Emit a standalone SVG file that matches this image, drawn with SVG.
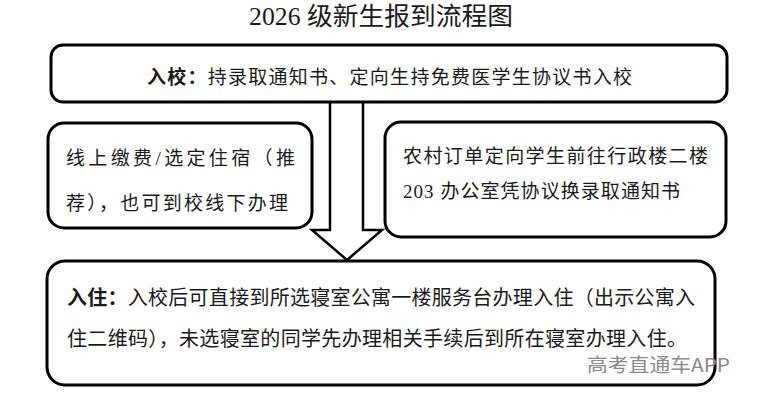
<svg xmlns="http://www.w3.org/2000/svg" width="760" height="402" viewBox="0 0 760 402">
<style>
.box{fill:#fff;stroke:#000;stroke-width:3}
.t{font-family:"Liberation Serif","Noto Sans CJK SC",serif;fill:#1a1a1a}
.b{font-weight:bold}
.wm{font-family:"Noto Sans CJK SC","Liberation Sans",sans-serif;fill:#8a8a8a;font-size:19px}
</style>
<rect width="760" height="402" fill="#fff"/>
<text class="t" x="249" y="25" font-size="25" textLength="264" lengthAdjust="spacingAndGlyphs">2026 级新生报到流程图</text>
<g id="connectors">
<polygon points="330,101 330,230 312,230 347,260 382,230 363,230 363,101" fill="#fff" stroke="#000" stroke-width="2.5" stroke-linejoin="miter"/>
</g>
<g id="node-enter">
<rect class="box" x="51" y="45" width="676" height="57" rx="12"/>
<text class="t" x="147" y="84" font-size="19" textLength="485" lengthAdjust="spacing"><tspan class="b">入校：</tspan>持录取通知书、定向生持免费医学生协议书入校</text>
</g>
<g id="node-online">
<rect class="box" x="48" y="123" width="264" height="105" rx="16"/>
<text class="t" x="66" y="165" font-size="19" textLength="229" lengthAdjust="spacing">线上缴费/选定住宿（推</text>
<text class="t" x="66" y="210" font-size="19" textLength="222" lengthAdjust="spacing">荐），也可到校线下办理</text>
</g>
<g id="node-rural">
<rect class="box" x="385" y="122" width="341" height="115" rx="16"/>
<text class="t" x="403" y="163" font-size="19" textLength="305" lengthAdjust="spacing">农村订单定向学生前往行政楼二楼</text>
<text class="t" x="403" y="198" font-size="19" textLength="277" lengthAdjust="spacing">203 办公室凭协议换录取通知书</text>
</g>
<g id="node-checkin">
<rect class="box" x="47" y="261" width="668" height="124" rx="18"/>
<text class="t" x="67" y="305" font-size="20" textLength="628" lengthAdjust="spacing"><tspan class="b">入住：</tspan>入校后可直接到所选寝室公寓一楼服务台办理入住（出示公寓入</text>
<text class="t" x="67" y="346" font-size="20" textLength="620" lengthAdjust="spacing">住二维码），未选寝室的同学先办理相关手续后到所在寝室办理入住。</text>
</g>
<text class="wm" x="587" y="372" textLength="143" lengthAdjust="spacingAndGlyphs">高考直通车APP</text>
</svg>
